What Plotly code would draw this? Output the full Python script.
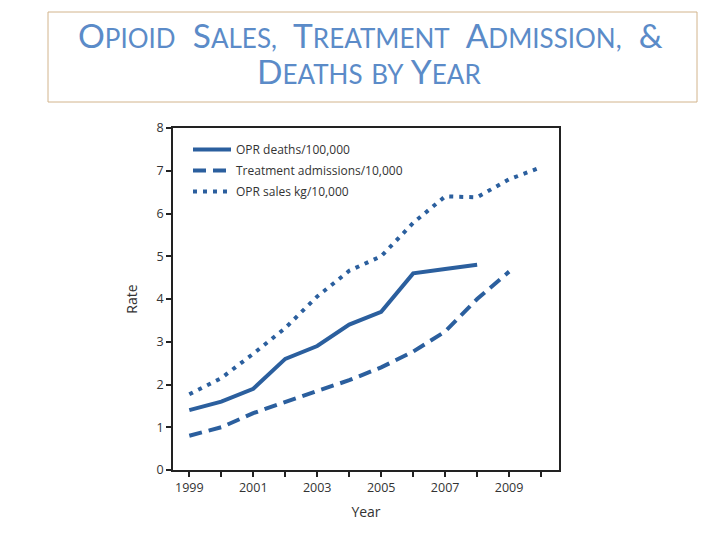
import plotly.graph_objects as go

years = [1999, 2000, 2001, 2002, 2003, 2004, 2005, 2006, 2007, 2008, 2009, 2010]
deaths = [1.4, 1.6, 1.9, 2.6, 2.9, 3.4, 3.7, 4.6, 4.7, 4.8]
admissions = [0.8, 1.0, 1.33, 1.6, 1.85, 2.1, 2.4, 2.77, 3.24, 4.0, 4.64]
sales = [1.77, 2.15, 2.72, 3.32, 4.06, 4.66, 5.0, 5.78, 6.4, 6.38, 6.8, 7.08]
names = ["OPR deaths/100,000", "Treatment admissions/10,000", "OPR sales kg/10,000"]
xtick_vals = [1999, 2001, 2003, 2005, 2007, 2009]
ytick_vals = [0, 1, 2, 3, 4, 5, 6, 7, 8]

BLUE = "#2b5f9e"
TXT = "#333333"
FONT = "Open Sans, Noto Sans, sans-serif"

# page body has an 8px margin; the figure is sized so it ends at the window edge
OFF = 8
L, T, PW, PH = 173, 128, 386, 342

fig = go.Figure()
fig.add_trace(go.Scatter(x=years[:len(deaths)], y=deaths, mode="lines", name=names[0],
                         legendgroup="a", line=dict(color=BLUE, width=4)))
fig.add_trace(go.Scatter(x=years[:len(admissions)], y=admissions, mode="lines", name=names[1],
                         legendgroup="b", line=dict(color=BLUE, width=4, dash="13px,7px")))
fig.add_trace(go.Scatter(x=years[:len(sales)], y=sales, mode="lines", name=names[2],
                         legendgroup="c", line=dict(color=BLUE, width=4, dash="4px,6px")))

fig.update_xaxes(range=[1998.49, 2010.56], tickmode="array", tickvals=years,
                 ticktext=[str(y) if y in xtick_vals else "" for y in years],
                 ticks="outside", ticklen=5, tickwidth=2, tickcolor="#222",
                 showline=True, linecolor="#222", linewidth=1.5, mirror=True,
                 showgrid=False, zeroline=False,
                 tickfont=dict(family=FONT, size=12.5, color=TXT),
                 title=dict(text="Year", font=dict(family=FONT, size=14, color=TXT), standoff=12))
fig.update_yaxes(range=[0, 8], tickvals=ytick_vals,
                 ticks="outside", ticklen=5, tickwidth=2, tickcolor="#222",
                 showline=True, linecolor="#222", linewidth=1.5, mirror=True,
                 showgrid=False, zeroline=False,
                 tickfont=dict(family=FONT, size=12.5, color=TXT),
                 title=dict(text="Rate", font=dict(family=FONT, size=14, color=TXT), standoff=16))

fig.update_layout(
    width=720 - OFF, height=540 - OFF,
    margin=dict(l=L - OFF, r=720 - L - PW, t=T - OFF, b=540 - T - PH),
    paper_bgcolor="white", plot_bgcolor="white",
    showlegend=True,
    legend=dict(x=(188 - L) / PW, y=(470 - 135) / PH, xanchor="left", yanchor="top",
                bgcolor="rgba(0,0,0,0)", font=dict(family=FONT, size=12, color=TXT),
                tracegroupgap=2, itemwidth=38),
)

def px(xp):
    return (xp - L) / PW

def py(yp):
    return (T + PH - yp) / PH

# Title box
fig.add_shape(type="rect", xref="paper", yref="paper",
              x0=px(48), x1=px(697), y0=py(102), y1=py(12),
              line=dict(color="#d2b48c", width=1), fillcolor="white", layer="below")

BIG = 33.5
SM = 26
def sc(word):
    return f"{word[0]}<span style='font-size:{SM}px'>{word[1:]}</span>"

line1 = "&nbsp;&nbsp;".join([sc("OPIOID"), sc("SALES,"), sc("TREATMENT"), sc("ADMISSION,"), "&"])
line2 = " ".join([sc("DEATHS"), f"<span style='font-size:{SM}px'>BY</span>", sc("YEAR")])
TFONT = dict(family="Lato, Open Sans, sans-serif", size=BIG, color="#5b8bc8", weight=400)
fig.add_annotation(xref="paper", yref="paper", x=px(370), y=py(35),
                   text=line1, showarrow=False, font=TFONT, xanchor="center", yanchor="middle")
fig.add_annotation(xref="paper", yref="paper", x=px(369), y=py(71),
                   text=line2, showarrow=False, font=TFONT, xanchor="center", yanchor="middle")

fig.write_html("out.html")
